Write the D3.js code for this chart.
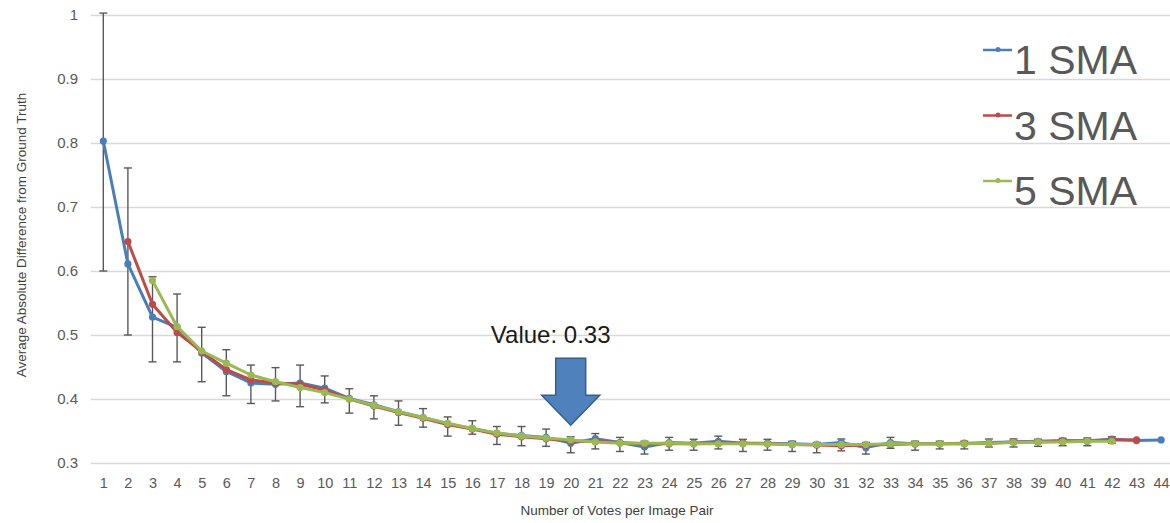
<!DOCTYPE html>
<html>
<head>
<meta charset="utf-8">
<script src="https://cdn.jsdelivr.net/npm/d3@7"></script>
<style>
  body { margin: 0; background: #fff; }
  svg { display: block; font-family: "Liberation Sans", "Noto Sans", sans-serif; }
</style>
</head>
<body>
<div id="wrapper"></div>
<script>
'use strict';

//#region DATA
const votes = d3.range(1, 45);
const seriesNames = ['1 SMA', '3 SMA', '5 SMA'];
const seriesColours = ['#4A7EBB', '#BE4B48', '#98B954'];
const yTicks = [0.3, 0.4, 0.5, 0.6, 0.7, 0.8, 0.9, 1];

// 1 SMA, votes 1..44
const sma1 = [0.803, 0.611, 0.528, 0.512, 0.472, 0.443, 0.425, 0.423, 0.425, 0.417,
  0.401, 0.391, 0.380, 0.371, 0.361, 0.354, 0.346, 0.343, 0.340, 0.331,
  0.338, 0.332, 0.325, 0.332, 0.331, 0.334, 0.331, 0.331, 0.330, 0.329,
  0.332, 0.324, 0.332, 0.330, 0.330, 0.330, 0.332, 0.333, 0.334, 0.335,
  0.334, 0.3375, 0.335, 0.336];
// 3 SMA, votes 2..43
const sma3 = [0.646, 0.548, 0.504, 0.474, 0.446, 0.430, 0.425, 0.423, 0.414,
  0.400, 0.389, 0.379, 0.370, 0.360, 0.353, 0.345, 0.341, 0.338, 0.334,
  0.334, 0.332, 0.330, 0.330, 0.330, 0.331, 0.331, 0.330, 0.329, 0.328,
  0.327, 0.328, 0.329, 0.330, 0.330, 0.331, 0.331, 0.333, 0.333, 0.334,
  0.335, 0.336, 0.336];
// 5 SMA, votes 3..42
const sma5 = [0.585, 0.513, 0.475, 0.456, 0.4375, 0.427, 0.418, 0.410,
  0.400, 0.390, 0.380, 0.371, 0.362, 0.354, 0.347, 0.342, 0.339, 0.336,
  0.333, 0.331, 0.331, 0.331, 0.330, 0.330, 0.330, 0.330, 0.329, 0.329,
  0.329, 0.329, 0.330, 0.330, 0.330, 0.330, 0.331, 0.332, 0.333, 0.333,
  0.334, 0.334];
const seriesStart = [1, 2, 3];

// error bar bounds, votes 1..42
const errHigh = [1.003, 0.761, 0.591, 0.564, 0.512, 0.477, 0.453, 0.449, 0.453, 0.436,
  0.416, 0.405, 0.397, 0.385, 0.372, 0.366, 0.357, 0.357, 0.353, 0.341,
  0.346, 0.340, 0.334, 0.340, 0.337, 0.342, 0.337, 0.337, 0.334, 0.332,
  0.3375, 0.332, 0.340, 0.334, 0.334, 0.334, 0.3375, 0.3375, 0.337, 0.3385,
  0.339, 0.341];
const errLow = [0.600, 0.500, 0.458, 0.458, 0.427, 0.405, 0.393, 0.397, 0.388, 0.394,
  0.378, 0.369, 0.359, 0.356, 0.342, 0.345, 0.329, 0.327, 0.326, 0.316,
  0.322, 0.318, 0.314, 0.320, 0.320, 0.322, 0.318, 0.320, 0.318, 0.316,
  0.319, 0.314, 0.323, 0.320, 0.322, 0.322, 0.325, 0.325, 0.326, 0.327,
  0.327, 0.331];

const annotationVote = 20;
const annotationText = 'Value: 0.33';
//#endregion DATA

function drawChart () {
  //#region DIMENSIONS
  const dimensions = {
    width: 1170,
    height: 523,
    plotLeft: 91,
    plotRight: 1173.4,
    plotTop: 15,
    plotBottom: 463
  };
  //#endregion DIMENSIONS

  const wrapper = d3.select('#wrapper')
    .append('svg')
    .attr('width', dimensions.width)
    .attr('height', dimensions.height);

  //#region SCALES
  const xScale = d3.scalePoint()
    .domain(votes)
    .range([dimensions.plotLeft, dimensions.plotRight])
    .padding(0.5);
  const yScale = d3.scaleLinear()
    .domain([0.3, 1])
    .range([dimensions.plotBottom, dimensions.plotTop]);
  //#endregion SCALES

  //#region GRID + AXES
  const yAxisGenerator = d3.axisLeft(yScale)
    .tickValues(yTicks)
    .tickFormat(d => d3.format('')(+d.toFixed(1)))
    .tickSize(-(dimensions.plotRight - dimensions.plotLeft + 1))
    .tickPadding(13);
  const yAxis = wrapper.append('g')
    .attr('transform', `translate(${dimensions.plotLeft}, 0)`)
    .call(yAxisGenerator);
  yAxis.select('.domain').remove();
  yAxis.selectAll('.tick line').attr('stroke', '#D9D9D9').attr('stroke-width', 1.3);
  yAxis.selectAll('.tick text')
    .attr('fill', '#595959')
    .style('font-size', '15px');

  const xAxisGenerator = d3.axisBottom(xScale).tickSize(0).tickPadding(15);
  const xAxis = wrapper.append('g')
    .attr('transform', `translate(0, ${dimensions.plotBottom})`)
    .call(xAxisGenerator);
  xAxis.select('.domain').remove();
  xAxis.selectAll('.tick text')
    .attr('fill', '#595959')
    .style('font-size', '14.5px');

  wrapper.append('text')
    .attr('x', 617)
    .attr('y', 515)
    .attr('text-anchor', 'middle')
    .attr('fill', '#404040')
    .style('font-size', '13.5px')
    .text('Number of Votes per Image Pair');

  wrapper.append('text')
    .attr('transform', 'translate(26, 235) rotate(-90)')
    .attr('text-anchor', 'middle')
    .attr('fill', '#404040')
    .style('font-size', '13.5px')
    .text('Average Absolute Difference from Ground Truth');
  //#endregion GRID + AXES

  //#region ERROR BARS
  const errData = errHigh.map((hi, i) => ({vote: votes[i], hi, lo: errLow[i]}));
  const errGroup = wrapper.append('g')
    .attr('stroke', '#595959')
    .attr('stroke-width', 1.4);
  const capHalf = 4;
  errData.forEach(d => {
    const x = xScale(d.vote);
    errGroup.append('line')
      .attr('x1', x).attr('x2', x)
      .attr('y1', yScale(d.hi)).attr('y2', yScale(d.lo));
    [d.hi, d.lo].forEach(v => {
      errGroup.append('line')
        .attr('x1', x - capHalf).attr('x2', x + capHalf)
        .attr('y1', yScale(v)).attr('y2', yScale(v));
    });
  });
  //#endregion ERROR BARS

  //#region LINES
  const allSeries = [sma1, sma3, sma5].map((values, s) =>
    values.map((v, i) => ({vote: seriesStart[s] + i, value: v})));

  const lineGenerator = d3.line()
    .x(d => xScale(d.vote))
    .y(d => yScale(d.value));

  allSeries.forEach((data, s) => {
    const g = wrapper.append('g');
    g.append('path')
      .datum(data)
      .attr('d', lineGenerator)
      .attr('fill', 'none')
      .attr('stroke', seriesColours[s])
      .attr('stroke-width', 3)
      .attr('stroke-linejoin', 'round');
    g.selectAll('circle')
      .data(data)
      .join('circle')
      .attr('cx', d => xScale(d.vote))
      .attr('cy', d => yScale(d.value))
      .attr('r', 3.6)
      .attr('fill', seriesColours[s]);
  });
  //#endregion LINES

  //#region LEGEND
  const legend = wrapper.append('g');
  seriesNames.forEach((name, i) => {
    const cy = 50 + i * 65.5;
    const item = legend.append('g');
    item.append('line')
      .attr('x1', 983).attr('x2', 1012)
      .attr('y1', cy).attr('y2', cy)
      .attr('stroke', seriesColours[i])
      .attr('stroke-width', 2.5);
    item.append('circle')
      .attr('cx', 998).attr('cy', cy - 0.5).attr('r', 2.5)
      .attr('fill', seriesColours[i]);
    item.append('text')
      .attr('x', 1014)
      .attr('y', cy + 24)
      .attr('fill', '#595959')
      .style('font-size', '41px')
      .style('font-weight', 300)
      .text(name);
  });
  //#endregion LEGEND

  //#region ANNOTATION
  const ax = xScale(annotationVote);
  const tipY = yScale(sma1[annotationVote - 1]) - 18;
  const arrow = [
    [ax - 15, tipY - 67], [ax + 15, tipY - 67], [ax + 15, tipY - 30],
    [ax + 29, tipY - 30], [ax, tipY], [ax - 29, tipY - 30], [ax - 15, tipY - 30]
  ];
  wrapper.append('path')
    .attr('d', d3.line()(arrow) + 'Z')
    .attr('fill', '#4F81BD')
    .attr('stroke', '#385D8A')
    .attr('stroke-width', 1.5);
  wrapper.append('text')
    .attr('x', ax - 20)
    .attr('y', 343)
    .attr('text-anchor', 'middle')
    .attr('fill', '#1a1a1a')
    .style('font-size', '24px')
    .text(annotationText);
  //#endregion ANNOTATION
}
drawChart();
</script>
</body>
</html>
